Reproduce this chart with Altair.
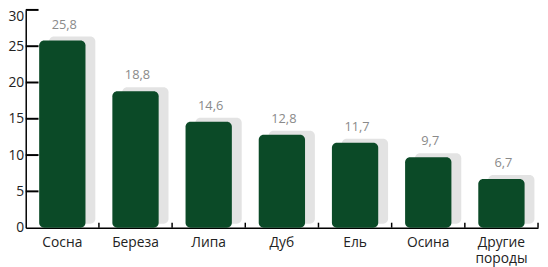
import altair as alt
import pandas as pd

categories = ["Сосна", "Береза", "Липа", "Дуб", "Ель", "Осина", "Другие породы"]
values = [25.8, 18.8, 14.6, 12.8, 11.7, 9.7, 6.7]
labels = ["25,8", "18,8", "14,6", "12,8", "11,7", "9,7", "6,7"]
y_ticks = [0, 5, 10, 15, 20, 25, 30]

df = pd.DataFrame({"cat": categories, "v": values, "lab": labels})
ticks_df = pd.DataFrame({"t": y_ticks[1:]})

FONT = "Open Sans"
GREEN = "#0b4a27"
SHADOW = "#e3e3e3"

xscale = alt.Scale(domain=categories, paddingInner=0, paddingOuter=0)
yscale = alt.Scale(domain=[0, 30], nice=False)

xaxis = alt.Axis(labelAngle=0, tickSize=0, domainColor="#000", domainWidth=1.5,
                 labelExpr="split(datum.label, ' ')", labelFont=FONT,
                 labelFontSize=14, labelColor="#222", labelPadding=8,
                 labelLineHeight=16, labelOverlap=False, title=None)
yaxis = alt.Axis(values=y_ticks, tickSize=0, grid=False, domainColor="#000",
                 domainWidth=1.5, labelFont=FONT, labelFontSize=14,
                 labelColor="#222", labelPadding=2, labelOverlap=False, title=None,
                 labelBaseline={"condition": {"test": "datum.value === 30", "value": "top"},
                                "value": "middle"})

def X(**kw):
    return alt.X("cat:N", scale=xscale, sort=categories, axis=xaxis, **kw)

def Y(field):
    return alt.Y(field, scale=yscale, axis=yaxis)

base = alt.Chart(df)

shadow = base.mark_bar(width=47, color=SHADOW, cornerRadius=5, xOffset=10, yOffset=-4, y2Offset=-4).encode(
    x=X(), y=Y("v:Q"), y2=alt.datum(0))
bars = base.mark_bar(width=47, color=GREEN, cornerRadius=5).encode(
    x=X(), y=Y("v:Q"), y2=alt.datum(0))
text = base.mark_text(font=FONT, fontSize=13, color="#8a8a8a", dy=-16, dx=2, baseline="middle").encode(
    x=X(), y=Y("v:Q"), text="lab:N")

yticks = alt.Chart(ticks_df).mark_rule(color="#000", strokeWidth=2).encode(
    y=Y("t:Q"), x=alt.value(0), x2=alt.value(13))
xticks = base.mark_rule(color="#000", strokeWidth=1.5).encode(
    x=X(bandPosition=1), y=alt.value(216), y2=alt.value(221))

chart = alt.layer(shadow, bars, text, yticks, xticks).properties(
    width=520, height=221,
    autosize=alt.AutoSizeParams(type="none"),
    padding={"left": 18, "top": 0, "right": 2, "bottom": 38},
).configure_view(stroke=None)

chart.save("out.html", embed_options={"renderer": "svg", "actions": False})
